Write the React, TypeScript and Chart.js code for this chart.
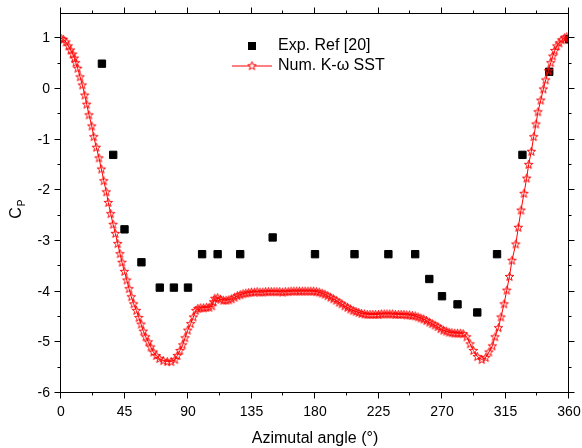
import React, { useEffect, useRef } from 'react';
import { Chart, registerables } from 'chart.js';

Chart.register(...registerables);

// ---------------- data ----------------
const expAngle = [29, 37, 45, 57, 70, 80, 90, 100, 111, 127, 150, 180, 208, 232, 251, 261, 270, 281, 295, 309, 327, 346, 360];
const expCp = [0.5, -1.3, -2.77, -3.42, -3.92, -3.92, -3.92, -3.26, -3.26, -3.26, -2.93, -3.26, -3.26, -3.26, -3.26, -3.75, -4.09, -4.25, -4.41, -3.26, -1.3, 0.34, 0.98];

const numAngle = [
  0, 1.6, 3.5, 5.2, 6.8, 8.3, 9.5, 10.4, 11.8, 13.5, 15.1, 16.8, 18.2, 19.8, 21.8, 23.2, 25, 26.9, 28.6, 30.3,
  32.1, 33.5, 35.2, 36.9, 38.5, 40.2, 41.8, 43.2, 44.9, 46.6, 48.2, 49.8, 51.5, 53.4, 55.1, 56.7, 58.3, 60, 61.9, 63.6,
  65.4, 67.5, 69.7, 72.5, 75.3, 78, 80.8, 82.4, 84.3, 86.2, 87.9, 89.8, 91.9, 93.8, 95.5,
  97, 99, 101, 103, 105, 107, 108, 109,
  111, 113, 115, 117, 119, 121, 123, 125, 127, 129, 131, 133, 135, 137, 139, 141, 143, 145, 147, 149,
  151, 153, 155, 157, 159, 161, 163, 165, 167, 169, 171, 173, 175, 177, 179, 181, 183, 185, 187, 189,
  191, 193, 195, 197, 199, 201, 203, 205, 207, 209, 211, 213, 215, 217, 219, 221, 223, 225, 227, 229,
  231, 233, 235, 237, 239, 241, 243, 245, 247, 249, 251, 253, 255, 257, 259, 261, 263, 265, 267, 269,
  271, 273, 275, 277, 279, 281, 283, 285,
  287.5, 289.9, 292.2, 295, 298.2, 301, 303.3, 305.7, 307.6, 310, 311.8, 314, 315.9, 317.8, 319.6, 322.3, 324.1, 326,
  328.1, 330, 331.4, 333.3, 335, 336.6, 338, 340, 341.8, 343.5, 345.4, 347.1, 348.5, 349.9, 351.3, 353.1, 354.8, 356.7,
  358.4, 360,
];
const numCp = [
  1.0, 0.98, 0.93, 0.85, 0.77, 0.69, 0.61, 0.52, 0.41, 0.24, 0.08, -0.12, -0.3, -0.51, -0.73, -0.94, -1.15, -1.36, -1.58, -1.81,
  -2.03, -2.24, -2.46, -2.67, -2.85, -3.05, -3.25, -3.42, -3.6, -3.77, -3.94, -4.1, -4.24, -4.37, -4.51, -4.64, -4.78, -4.89, -4.99, -5.09,
  -5.19, -5.26, -5.32, -5.36, -5.38, -5.38, -5.34, -5.26, -5.16, -5.05, -4.91, -4.76, -4.63, -4.5, -4.37,
  -4.33, -4.32, -4.32, -4.31, -4.31, -4.28, -4.2, -4.13,
  -4.12, -4.15, -4.17, -4.17, -4.16, -4.14, -4.11, -4.08, -4.06, -4.04, -4.03, -4.02, -4.01, -4.01, -4.0, -4.01, -4.01, -4.0, -4.0, -4.0,
  -4.0, -4.0, -4.0, -4.01, -4.0, -4.0, -3.99, -3.99, -3.99, -3.99, -3.99, -3.99, -3.99, -3.99, -3.99, -4.0, -4.01, -4.03, -4.05, -4.08,
  -4.11, -4.14, -4.17, -4.21, -4.24, -4.28, -4.31, -4.34, -4.37, -4.39, -4.41, -4.43, -4.44, -4.45, -4.45, -4.45, -4.45, -4.45, -4.44, -4.44,
  -4.44, -4.44, -4.44, -4.45, -4.45, -4.45, -4.45, -4.46, -4.46, -4.47, -4.48, -4.5, -4.52, -4.54, -4.57, -4.6, -4.63, -4.66, -4.69, -4.73,
  -4.76, -4.78, -4.8, -4.81, -4.82, -4.82, -4.82, -4.83,
  -4.89, -5.03, -5.16, -5.28, -5.34, -5.3, -5.19, -5.07, -4.89, -4.71, -4.5, -4.24, -3.97, -3.7, -3.38, -3.06, -2.73, -2.39,
  -2.06, -1.76, -1.49, -1.23, -0.94, -0.69, -0.45, -0.22, 0.0, 0.18, 0.36, 0.52, 0.65, 0.76, 0.85, 0.91, 0.97, 1.01,
  1.03, 1.0,
];

const xMajor = [0, 45, 90, 135, 180, 225, 270, 315, 360];
const xMinor = [22.5, 67.5, 112.5, 157.5, 202.5, 247.5, 292.5, 337.5];
const yMajor = [-6, -5, -4, -3, -2, -1, 0, 1];
const yMinor = [-5.5, -4.5, -3.5, -2.5, -1.5, -0.5, 0.5];

const expLabel = 'Exp. Ref [20]';
const numLabel = 'Num. K-\u03c9 SST';
const xTitle = 'Azimutal angle (\u00b0)';

const FONT = '"Liberation Sans", Arial, sans-serif';

function makeStar(fill: boolean): HTMLCanvasElement {
  const c = document.createElement('canvas');
  c.width = 11;
  c.height = 11;
  const g = c.getContext('2d')!;
  const cx = 5.5, cy = 5.8, ro = 4.5, ri = 1.85;
  g.beginPath();
  for (let i = 0; i < 10; i++) {
    const r = i % 2 === 0 ? ro : ri;
    const a = -Math.PI / 2 + (i * Math.PI) / 5;
    const px = cx + r * Math.cos(a);
    const py = cy + r * Math.sin(a);
    if (i === 0) g.moveTo(px, py);
    else g.lineTo(px, py);
  }
  g.closePath();
  if (fill) {
    g.fillStyle = '#fff';
    g.fill();
  }
  g.strokeStyle = '#ff0000';
  g.lineWidth = 1;
  g.stroke();
  return c;
}

export default function App() {
  const ref = useRef<HTMLCanvasElement>(null);

  useEffect(() => {
    if (!ref.current) return;
    const star = makeStar(false);
    const legendStar = makeStar(true);

    const decorPlugin = {
      id: 'decor',
      afterDraw(chart: any) {
        const { ctx, chartArea: a, scales } = chart;
        const xs = scales.x, ys = scales.y;
        ctx.save();
        ctx.strokeStyle = '#000';
        ctx.lineWidth = 1;
        const L = Math.round(a.left) - 0.5;
        const R = Math.round(a.right) - 0.5;
        const T = Math.round(a.top) + 0.5;
        const B = Math.round(a.bottom) - 0.5;
        ctx.strokeRect(L, T, R - L, B - T);
        const seg = (x1: number, y1: number, x2: number, y2: number) => {
          ctx.beginPath();
          ctx.moveTo(x1, y1);
          ctx.lineTo(x2, y2);
          ctx.stroke();
        };
        const xt = (v: number, len: number) => {
          const px = Math.round(xs.getPixelForValue(v)) - 0.5;
          seg(px, B, px, B + len);
          seg(px, T, px, T - len);
        };
        const yt = (v: number, len: number) => {
          const py = Math.round(ys.getPixelForValue(v)) - 0.5;
          seg(L, py, L - len, py);
          seg(R, py, R + len, py);
        };
        xMajor.forEach((v) => xt(v, 6));
        xMinor.forEach((v) => xt(v, 3));
        yMajor.forEach((v) => yt(v, 6));
        yMinor.forEach((v) => yt(v, 3));

        // Y title C_P
        ctx.fillStyle = '#000';
        ctx.save();
        ctx.translate(17, 213);
        ctx.rotate(-Math.PI / 2);
        ctx.textAlign = 'center';
        ctx.textBaseline = 'middle';
        ctx.font = `16px ${FONT}`;
        ctx.fillText('C', 0, 0);
        ctx.font = `10px ${FONT}`;
        ctx.fillText('P', 10, 5);
        ctx.restore();

        // legend
        ctx.font = `16px ${FONT}`;
        ctx.textAlign = 'left';
        ctx.textBaseline = 'middle';
        ctx.fillStyle = '#000';
        ctx.fillRect(248, 42, 8, 8);
        ctx.fillText(expLabel, 278, 46);
        ctx.strokeStyle = '#ff0000';
        seg(232, 66, 272, 66);
        ctx.drawImage(legendStar, 252 - 5.5, 66 - 5.8);
        ctx.fillStyle = '#000';
        ctx.fillText(numLabel, 278, 66);
        ctx.restore();
      },
    };

    const chart = new Chart(ref.current, {
      type: 'scatter',
      data: {
        datasets: [
          {
            label: numLabel,
            data: numAngle.map((x, i) => ({ x, y: numCp[i] })),
            showLine: true,
            borderColor: '#ff0000',
            borderWidth: 1,
            pointStyle: star as any,
            pointRadius: 5,
            order: 0,
          },
          {
            label: expLabel,
            data: expAngle.map((x, i) => ({ x, y: expCp[i] })),
            backgroundColor: '#000',
            borderColor: '#000',
            borderWidth: 1,
            pointStyle: 'rect',
            pointRadius: 5.2,
            order: 1,
          },
        ],
      },
      options: {
        responsive: false,
        animation: false,
        layout: { padding: { top: 13, right: 13, left: 0, bottom: 0 } },
        plugins: {
          legend: { display: false },
          tooltip: { enabled: false },
        },
        scales: {
          x: {
            type: 'linear',
            min: 0,
            max: 360,
            afterFit: (s: any) => {
              s.height = 55;
              s.paddingLeft = 0;
              s.paddingRight = 0;
              s.paddingTop = 0;
              s.paddingBottom = 0;
            },
            afterBuildTicks: (s: any) => {
              s.ticks = xMajor.map((value) => ({ value }));
            },
            grid: { display: false, drawTicks: false },
            border: { display: false },
            ticks: {
              padding: 11,
              color: '#000',
              font: { family: FONT, size: 14 },
              maxRotation: 0,
              autoSkip: false,
            },
            title: {
              display: true,
              text: xTitle,
              color: '#000',
              font: { family: FONT, size: 16 },
              padding: { top: 0, bottom: 0 },
            },
          },
          y: {
            type: 'linear',
            min: -6,
            max: 1.5,
            afterFit: (s: any) => {
              s.width = 61;
              s.paddingLeft = 0;
              s.paddingRight = 0;
              s.paddingTop = 0;
              s.paddingBottom = 0;
            },
            afterBuildTicks: (s: any) => {
              s.ticks = yMajor.map((value) => ({ value }));
            },
            grid: { display: false, drawTicks: false },
            border: { display: false },
            ticks: {
              padding: 11,
              color: '#000',
              font: { family: FONT, size: 14 },
              autoSkip: false,
            },
          },
        },
      },
      plugins: [decorPlugin],
    } as any);

    return () => chart.destroy();
  }, []);

  return (
    <div style={{ position: 'fixed', left: 0, top: 0, width: 582, height: 448, background: '#fff' }}>
      <canvas ref={ref} width={582} height={448} style={{ display: 'block' }} />
    </div>
  );
}
